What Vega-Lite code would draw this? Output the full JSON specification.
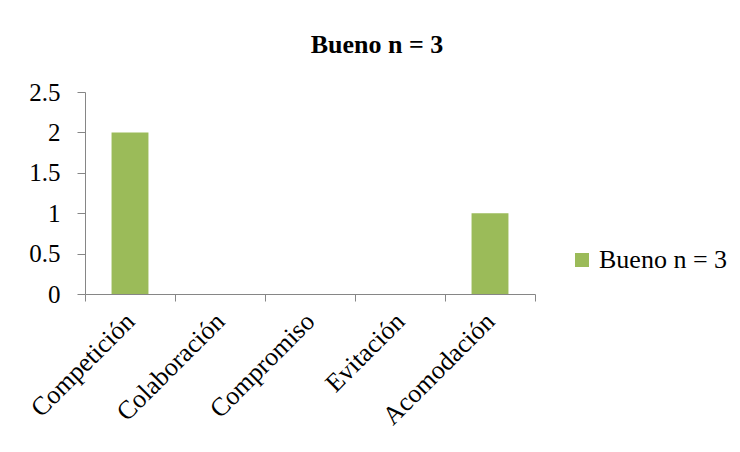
{
  "$schema": "https://vega.github.io/schema/vega-lite/v6.json",
  "width": 450,
  "height": 202,
  "autosize": {"type": "pad"},
  "padding": {"left": 25, "top": 32, "right": 5, "bottom": 5},
  "background": "white",
  "title": {
    "text": "Bueno n = 3",
    "font": "Liberation Serif",
    "fontSize": 26,
    "fontWeight": "bold",
    "color": "black",
    "anchor": "middle",
    "frame": "bounds",
    "offset": 22
  },
  "data": {
    "values": [
      {"categoria": "Competición", "valor": 2, "serie": "Bueno n = 3"},
      {"categoria": "Colaboración", "valor": 0, "serie": "Bueno n = 3"},
      {"categoria": "Compromiso", "valor": 0, "serie": "Bueno n = 3"},
      {"categoria": "Evitación", "valor": 0, "serie": "Bueno n = 3"},
      {"categoria": "Acomodación", "valor": 1, "serie": "Bueno n = 3"}
    ]
  },
  "mark": {"type": "bar", "width": {"band": 0.41}},
  "encoding": {
    "x": {
      "field": "categoria",
      "type": "nominal",
      "sort": null,
      "scale": {"paddingInner": 0, "paddingOuter": 0},
      "axis": {
        "title": null,
        "labelAngle": -45,
        "labelAlign": "right",
        "labelBaseline": "middle",
        "labelPadding": 16,
        "tickBand": "extent",
        "labelFont": "Liberation Serif",
        "labelFontSize": 26,
        "labelColor": "black",
        "domainColor": "#868686",
        "tickColor": "#868686",
        "tickSize": 7,
        "labelOverlap": false
      }
    },
    "y": {
      "field": "valor",
      "type": "quantitative",
      "scale": {"domain": [0, 2.5], "nice": false},
      "axis": {
        "title": null,
        "values": [0, 0.5, 1, 1.5, 2, 2.5],
        "format": "~g",
        "grid": false,
        "labelFont": "Liberation Serif",
        "labelFontSize": 25,
        "labelColor": "black",
        "labelPadding": 17,
        "domainColor": "#868686",
        "tickColor": "#868686",
        "tickSize": 8
      }
    },
    "color": {
      "field": "serie",
      "type": "nominal",
      "title": null,
      "scale": {"range": ["#9BBB59"]},
      "legend": {
        "orient": "none",
        "legendX": 484,
        "legendY": 155,
        "symbolType": "square",
        "symbolSize": 196,
        "symbolStrokeWidth": 0,
        "symbolOpacity": 1,
        "labelFont": "Liberation Serif",
        "labelFontSize": 26,
        "labelColor": "black",
        "labelOffset": 4
      }
    }
  },
  "config": {"view": {"stroke": null}, "font": "Liberation Serif"}
}
